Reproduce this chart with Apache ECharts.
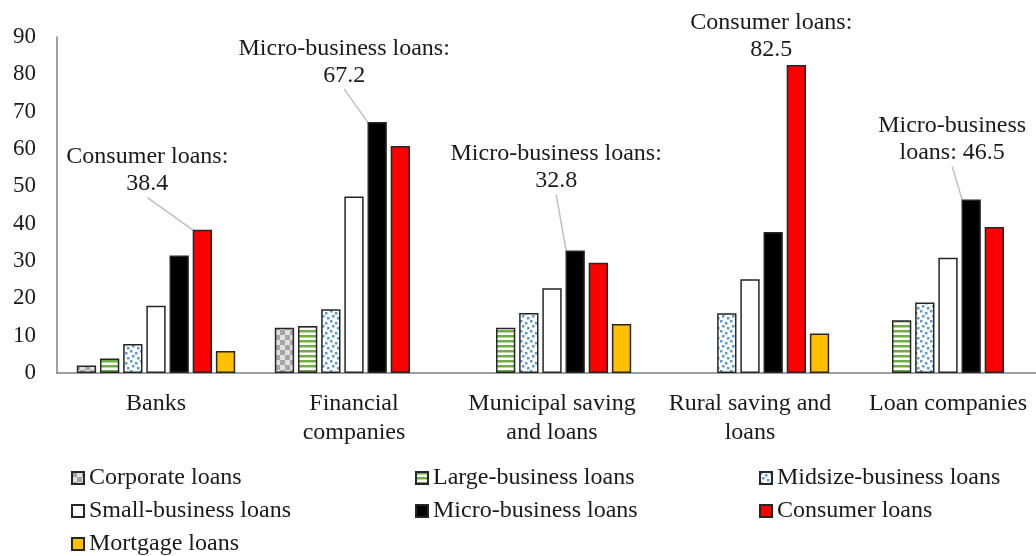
<!DOCTYPE html>
<html>
<head>
<meta charset="utf-8">
<script src="https://cdn.jsdelivr.net/npm/echarts@6/dist/echarts.min.js"></script>
<style>
    html, body { margin: 0; padding: 0; background: #fff; overflow: hidden; }
    #main { width: 1060px; height: 556px; }
</style>
</head>
<body>
<div id="main"></div>
<script>
    var categories = ['Banks', 'Financial\ncompanies', 'Municipal saving\nand loans', 'Rural saving and\nloans', 'Loan companies'];
    var seriesNames = ['Corporate loans', 'Large-business loans', 'Midsize-business loans',
        'Small-business loans', 'Micro-business loans', 'Consumer loans', 'Mortgage loans'];

    var corporate = [2.0, 12.1, null, null, null];
    var largeBiz = [3.9, 12.6, 12.1, null, 14.1];
    var midsizeBiz = [7.8, 17.1, 16.1, 16.0, 18.9];
    var smallBiz = [18.0, 47.3, 22.7, 25.1, 30.9];
    var microBiz = [31.5, 67.2, 32.8, 37.8, 46.5];
    var consumer = [38.4, 60.8, 29.5, 82.5, 39.1];
    var mortgage = [5.9, null, 13.1, 10.6, null];

    var yTicks = [0, 10, 20, 30, 40, 50, 60, 70, 80, 90];

    // callouts: series index, category index, text
    var callouts = [
        {s: 5, c: 0, text: 'Consumer loans:\n38.4', dx: -55, dy: -27, line: true},
        {s: 4, c: 1, text: 'Micro-business loans:\n67.2', dx: -33, dy: -28, line: true},
        {s: 4, c: 2, text: 'Micro-business loans:\n32.8', dx: -19, dy: -51, line: true},
        {s: 5, c: 3, text: 'Consumer loans:\n82.5', dx: -25, dy: 3, line: false},
        {s: 4, c: 4, text: 'Micro-business\nloans: 46.5', dx: -19, dy: -28, line: true}
    ];

    var FONT = '"Liberation Serif", "Times New Roman", serif';

    function makeCanvas(w, h, draw) {
        var cv = document.createElement('canvas');
        cv.width = w;
        cv.height = h;
        var ctx = cv.getContext('2d');
        ctx.fillStyle = '#fff';
        ctx.fillRect(0, 0, w, h);
        draw(ctx);
        return cv;
    }

    var checker = makeCanvas(10, 10, function (ctx) {
        ctx.fillStyle = '#e0e0e0';
        ctx.fillRect(0, 0, 10, 10);
        ctx.fillStyle = '#a6a6a6';
        ctx.fillRect(0, 0, 5, 5);
        ctx.fillRect(5, 5, 5, 5);
    });
    var stripes = makeCanvas(8, 5, function (ctx) {
        ctx.fillStyle = '#70ad47';
        ctx.fillRect(0, 0, 8, 2.5);
    });
    var dots = makeCanvas(10, 10, function (ctx) {
        ctx.fillStyle = '#5b9bd5';
        var pts = [[0, 0], [5, 2], [2, 5], [7, 7]];
        pts.forEach(function (p) { ctx.fillRect(p[0], p[1], 2.5, 2.5); });
    });

    var fills = [
        {image: checker, repeat: 'repeat'},
        {image: stripes, repeat: 'repeat'},
        {image: dots, repeat: 'repeat'},
        '#ffffff',
        '#000000',
        '#ff0000',
        '#ffc000'
    ];
    var values = [corporate, largeBiz, midsizeBiz, smallBiz, microBiz, consumer, mortgage];

    var series = values.map(function (vals, si) {
        var data = vals.map(function (v, ci) {
            var item = {value: v === null ? '-' : v};
            callouts.forEach(function (co) {
                if (co.s === si && co.c === ci) {
                    item.label = {
                        show: true,
                        position: 'top',
                        formatter: co.text,
                        fontFamily: FONT,
                        fontSize: 24,
                        lineHeight: 27,
                        color: '#1a1a1a',
                        align: 'center'
                    };
                    item.labelLine = {show: co.line};
                }
            });
            return item;
        });
        return {
            name: seriesNames[si],
            type: 'bar',
            barGap: '20%',
            barCategoryGap: '20%',
            data: data,
            itemStyle: {
                color: fills[si],
                borderColor: '#262626',
                borderWidth: 1.5
            },
            labelLine: {
                show: true,
                lineStyle: {color: '#c0c0c0', width: 1.5}
            },
            labelLayout: function (p) {
                for (var i = 0; i < callouts.length; i++) {
                    if (callouts[i].s === si && callouts[i].c === p.dataIndex) {
                        return {dx: callouts[i].dx, dy: callouts[i].dy};
                    }
                }
            }
        };
    });

    function legendCol(names, left) {
        return {
            data: names,
            orient: 'vertical',
            left: left,
            top: 461,
            height: 95,
            itemGap: 9,
            itemWidth: 12,
            itemHeight: 12,
            itemTextGap: 3,
            icon: 'rect',
            selectedMode: false,
            textStyle: {fontFamily: FONT, fontSize: 24, color: '#1a1a1a'}
        };
    }

    var chart = echarts.init(document.getElementById('main'));
    chart.setOption({
        animation: false,
        backgroundColor: '#fff',
        grid: {left: 57, top: 37, bottom: 183, width: 990},
        legend: [
            legendCol([seriesNames[0], seriesNames[3], seriesNames[6]], 66),
            legendCol([seriesNames[1], seriesNames[4]], 410),
            legendCol([seriesNames[2], seriesNames[5]], 754)
        ],
        xAxis: {
            type: 'category',
            data: categories,
            axisTick: {show: false},
            axisLine: {lineStyle: {color: '#808080', width: 1.5}},
            axisLabel: {
                fontFamily: FONT,
                fontSize: 24,
                lineHeight: 29,
                color: '#1a1a1a',
                margin: 16,
                interval: 0
            }
        },
        yAxis: {
            type: 'value',
            min: yTicks[0],
            max: yTicks[yTicks.length - 1],
            interval: 10,
            splitLine: {show: false},
            axisTick: {show: false},
            axisLine: {show: true, lineStyle: {color: '#808080', width: 1.5}},
            axisLabel: {
                fontFamily: FONT,
                fontSize: 23,
                color: '#1a1a1a',
                margin: 21
            }
        },
        series: series
    });
</script>
</body>
</html>
